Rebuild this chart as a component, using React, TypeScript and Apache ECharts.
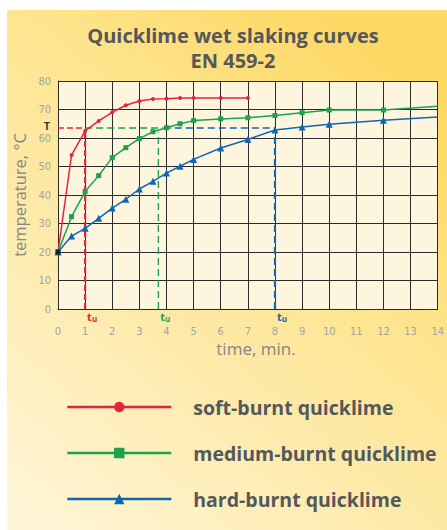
import React, { useEffect, useRef } from "react";
import * as echarts from "echarts";

const timeSoft = [0, 0.5, 1, 1.5, 2, 2.5, 3, 3.5, 4, 4.5, 5, 6, 7];
const softBurnt = [20, 54, 62.5, 66, 69, 71.5, 73, 73.7, 73.8, 74, 74, 74, 74];
const timeLong = [0, 0.5, 1, 1.5, 2, 2.5, 3, 3.5, 4, 4.5, 5, 6, 7, 8, 9, 10, 12, 14];
const mediumBurnt = [20, 32.4, 41.2, 46.8, 53.1, 56.6, 59.8, 62.2, 63.6, 65, 66.1, 66.7, 67.1, 67.9, 68.9, 69.8, 69.8, 71.1];
const hardBurnt = [20, 25.6, 28.3, 31.8, 35.4, 38.5, 42.1, 44.8, 47.7, 50.1, 52.5, 56.5, 59.5, 62.8, 63.9, 64.8, 66.2, 67.4];
const seriesNames = ["soft-burnt quicklime", "medium-burnt quicklime", "hard-burnt quicklime"];
const tempT = 63.5;
const tuSoft = 1;
const tuMedium = 3.7;
const tuHard = 8;
const tCrossMedium = 3.9;
const startPoint = [0, 20];

const RED = "#e8223c";
const GREEN = "#1ba24b";
const BLUE = "#1166b2";
const TEXT_DARK = "#54575c";
const TICK = "#a3a3a3";
const COND = '"DejaVu Sans Condensed", "Liberation Sans Narrow", sans-serif';
const MAIN_FONT = '"Open Sans", "DejaVu Sans", sans-serif';

function curve(times: number[], vals: number[], lastNoSymbol: boolean) {
  return times.map((t, i) =>
    lastNoSymbol && i === times.length - 1 ? { value: [t, vals[i]], symbol: "none" } : [t, vals[i]]
  );
}

function tuLabel(color: string) {
  return {
    show: true,
    position: "bottom",
    distance: 2,
    offset: [7, 0],
    formatter: "{t|t}{u|u}",
    rich: {
      t: { fontSize: 11, fontWeight: "bold", color, fontFamily: MAIN_FONT, lineHeight: 11 },
      u: { fontSize: 8, fontWeight: "bold", color, fontFamily: MAIN_FONT, lineHeight: 8, padding: [4, 0, 0, 0] },
    },
  };
}

function dashed(name: string, data: any[], color: string, width: number, dash: number[]) {
  return {
    name,
    type: "line",
    data,
    symbol: "circle",
    symbolSize: 0,
    silent: true,
    z: 1,
    lineStyle: { color, width, type: dash },
    itemStyle: { color },
  };
}

export default function App() {
  const ref = useRef<HTMLDivElement>(null);
  useEffect(() => {
    if (!ref.current) return;
    const chart = echarts.init(ref.current, null, { renderer: "svg" });
    const titleStyle = {
      fontSize: 20,
      lineHeight: 20,
      fontWeight: "bold",
      fontFamily: MAIN_FONT,
      fill: TEXT_DARK,
      align: "center",
      verticalAlign: "middle",
    };
    const option: any = {
      animation: false,
      graphic: [
        {
          type: "rect",
          z: -10,
          silent: true,
          shape: { x: 7, y: 10, width: 440, height: 520 },
          style: {
            fill: new echarts.graphic.LinearGradient(0, 1, 0.7, 0, [
              { offset: 0, color: "#fff6da" },
              { offset: 0.47, color: "#fde9a5" },
              { offset: 0.67, color: "#fee590" },
              { offset: 1, color: "#fdd865" },
            ]),
          },
        },
        { type: "text", x: 233, y: 35, style: { ...titleStyle, text: "Quicklime wet slaking curves" } },
        { type: "text", x: 233, y: 60, style: { ...titleStyle, text: "EN 459-2" } },
        {
          type: "text",
          x: 256,
          y: 348,
          style: {
            text: "time, min.",
            fontSize: 17,
            fontFamily: MAIN_FONT,
            fill: "#858585",
            align: "center",
            verticalAlign: "middle",
          },
        },
      ],
      grid: {
        left: 58,
        top: 81,
        width: 380,
        height: 228,
        show: true,
        backgroundColor: "#fdf5dd",
        borderWidth: 0,
      },
      xAxis: {
        type: "value",
        min: 0,
        max: 14,
        interval: 1,
        axisLine: { show: true, lineStyle: { color: "#2b2b2b", width: 1 } },
        axisTick: { show: false },
        splitLine: { show: true, lineStyle: { color: "#2b2b2b", width: 1 } },
        axisLabel: { color: TICK, fontSize: 11, fontFamily: COND, margin: 17 },
      },
      yAxis: {
        type: "value",
        min: 0,
        max: 80,
        interval: 10,
        name: "temperature, °C",
        nameLocation: "middle",
        nameGap: 19,
        nameTextStyle: { fontSize: 16.5, color: "#858585", fontFamily: MAIN_FONT },
        axisLine: { show: true, lineStyle: { color: "#2b2b2b", width: 1 } },
        axisTick: { show: false },
        splitLine: { show: true, lineStyle: { color: "#2b2b2b", width: 1 } },
        axisLabel: { color: TICK, fontSize: 11, fontFamily: COND, margin: 7 },
      },
      legend: {
        data: seriesNames,
        orient: "vertical",
        left: 61,
        top: 392,
        itemWidth: 104,
        itemHeight: 13,
        itemGap: 26,
        selectedMode: false,
        lineStyle: { width: 2.5 },
        textStyle: {
          fontSize: 19.5,
          fontWeight: "bold",
          color: TEXT_DARK,
          fontFamily: MAIN_FONT,
          lineHeight: 20,
          padding: [0, 0, 0, 17],
        },
      },
      series: [
        dashed("refT1", [{ value: [0, tempT], label: { show: true, position: "left", distance: 8, offset: [0, -3], formatter: "T", fontSize: 11, lineHeight: 11, fontWeight: "bold", color: "#3a3a3a", fontFamily: MAIN_FONT } }, [tuSoft, tempT]], RED, 1.5, [6, 3]),
        dashed("refT2", [[tuSoft, tempT], [tCrossMedium, tempT]], GREEN, 1.5, [7, 4]),
        dashed("refT3", [[tCrossMedium, tempT], [tuHard, tempT]], BLUE, 1.5, [7, 4]),
        dashed("tu1", [{ value: [tuSoft, 0], label: tuLabel(RED) }, [tuSoft, softBurnt[2]]], RED, 2.2, [6, 3]),
        dashed("tu2", [{ value: [tuMedium, 0], label: tuLabel(GREEN) }, [tuMedium, 62]], GREEN, 1.3, [7, 4]),
        dashed("tu3", [{ value: [tuHard, 0], label: tuLabel(BLUE) }, [tuHard, hardBurnt[13]]], BLUE, 2.2, [7, 4]),
        {
          name: seriesNames[0],
          type: "line",
          data: curve(timeSoft, softBurnt, false),
          symbol: "circle",
          symbolSize: 4,
          z: 3,
          lineStyle: { color: RED, width: 1.5 },
          itemStyle: { color: RED },
        },
        {
          name: seriesNames[1],
          type: "line",
          data: curve(timeLong, mediumBurnt, true),
          symbol: "rect",
          symbolSize: 5,
          z: 3,
          lineStyle: { color: GREEN, width: 1.5 },
          itemStyle: { color: GREEN },
        },
        {
          name: seriesNames[2],
          type: "line",
          data: curve(timeLong, hardBurnt, true),
          symbol: "triangle",
          symbolSize: 7,
          z: 3,
          lineStyle: { color: BLUE, width: 1.5 },
          itemStyle: { color: BLUE },
        },
        {
          name: "start",
          type: "scatter",
          data: [startPoint],
          symbol: "rect",
          symbolSize: 5,
          z: 5,
          itemStyle: { color: "#111" },
        },
      ],
    };
    chart.setOption(option);
    return () => chart.dispose();
  }, []);
  return (
    <div
      ref={ref}
      style={{ position: "fixed", left: 0, top: 0, width: 447, height: 530, background: "#fff" }}
    />
  );
}
